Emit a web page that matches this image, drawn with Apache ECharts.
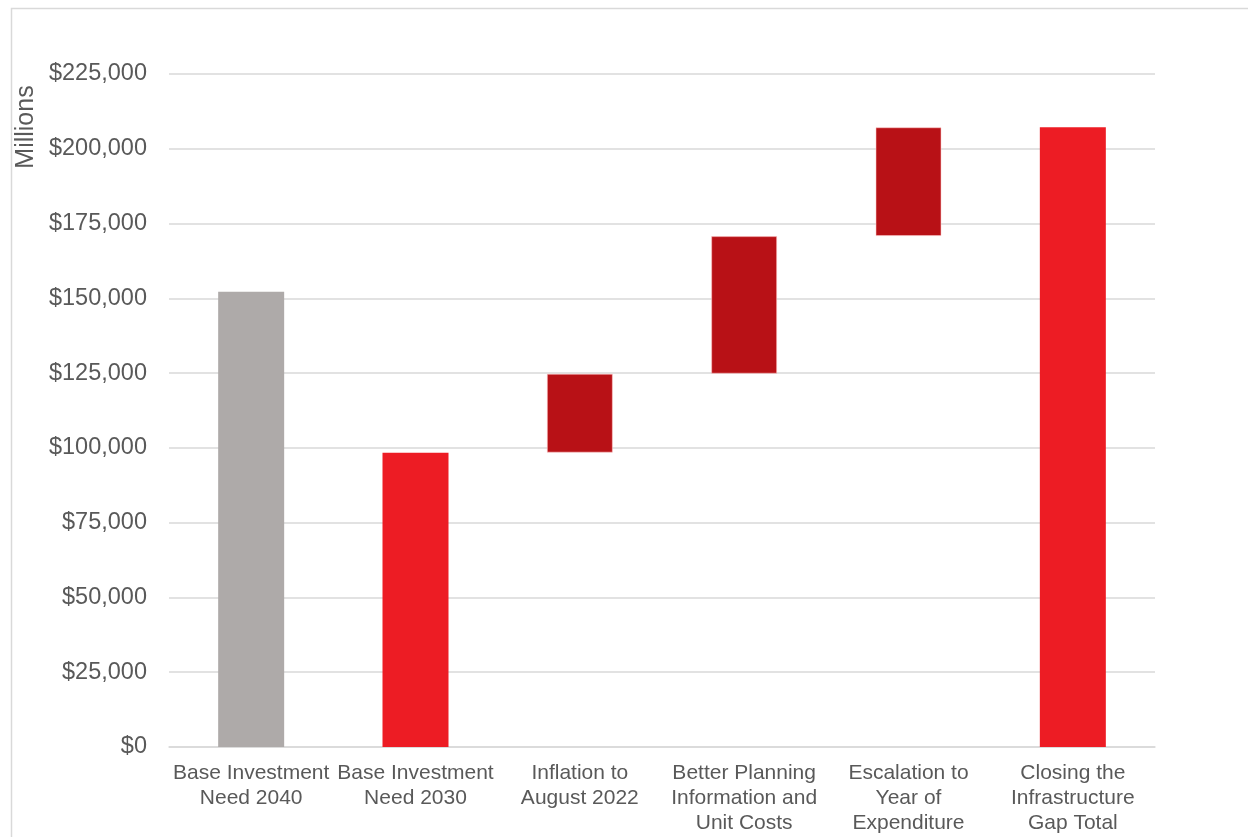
<!DOCTYPE html>
<html>
<head>
<meta charset="utf-8">
<script src="https://cdn.jsdelivr.net/npm/echarts@6/dist/echarts.min.js"></script>
<style>
  html, body { margin: 0; padding: 0; background: #ffffff; }
  #chart { width: 1248px; height: 837px; }
</style>
</head>
<body>
<div id="chart"></div>
<script>
// Waterfall: investment need build-up (millions of dollars)
const categories = [
  'Base Investment\nNeed 2040',
  'Base Investment\nNeed 2030',
  'Inflation to\nAugust 2022',
  'Better Planning\nInformation and\nUnit Costs',
  'Escalation to\nYear of\nExpenditure',
  'Closing the\nInfrastructure\nGap Total'
];
// Full-height bars (null where the step is floating)
const totals = [152200, 98400, null, null, null, 207200];
// Floating increments added on top of the 2030 base
const steps = [null, null, 26400, 46000, 36400, null];
const yTicks = [0, 25000, 50000, 75000, 100000, 125000, 150000, 175000, 200000, 225000];

const GREY = '#AEAAA9';
const RED = '#ED1C24';
const DARK_RED = '#B81116';

// Invisible offsets under each floating step: running sum starting at the 2030 base
const offsets = [];
let running = totals[1];
for (let i = 0; i < categories.length; i++) {
  if (steps[i] != null) {
    offsets.push(running);
    running += steps[i];
  } else {
    offsets.push(null);
  }
}

const totalColors = [GREY, RED, null, null, null, RED];

const chart = echarts.init(document.getElementById('chart'), null, { renderer: 'canvas' });

chart.setOption({
  animation: false,
  backgroundColor: '#ffffff',
  textStyle: { fontFamily: 'Liberation Sans, Arial, sans-serif' },
  grid: { left: 169, right: 93, top: 74, bottom: 90, containLabel: false },
  graphic: [
    {
      type: 'rect',
      shape: { x: 11.5, y: 8.5, width: 1400, height: 1000 },
      style: { fill: 'none', stroke: '#d9d9d9', lineWidth: 1.5 },
      silent: true
    },
    {
      type: 'text',
      x: 26,
      y: 127,
      rotation: Math.PI / 2,
      style: {
        text: 'Millions',
        fill: '#595959',
        font: '25px "Liberation Sans", Arial, sans-serif',
        textAlign: 'center',
        textVerticalAlign: 'middle'
      }
    }
  ],
  xAxis: {
    type: 'category',
    data: categories,
    axisLine: { lineStyle: { color: '#d9d9d9', width: 1.5 } },
    axisTick: { show: false },
    axisLabel: {
      interval: 0,
      color: '#595959',
      fontSize: 21,
      lineHeight: 25,
      margin: 14,
      fontFamily: 'Liberation Sans, Arial, sans-serif'
    }
  },
  yAxis: {
    type: 'value',
    min: yTicks[0],
    max: yTicks[yTicks.length - 1],
    interval: yTicks[1] - yTicks[0],
    axisLine: { show: false },
    axisTick: { show: false },
    splitLine: { lineStyle: { color: '#d9d9d9', width: 1.5 } },
    axisLabel: {
      color: '#595959',
      fontSize: 23.5,
      margin: 22,
      fontFamily: 'Liberation Sans, Arial, sans-serif',
      formatter: v => '$' + v.toLocaleString('en-US')
    }
  },
  series: [
    {
      name: 'offset',
      type: 'bar',
      stack: 'w',
      barWidth: 66,
      silent: true,
      itemStyle: { color: 'transparent' },
      data: offsets
    },
    {
      name: 'step',
      type: 'bar',
      stack: 'w',
      barWidth: 66,
      itemStyle: { color: DARK_RED, borderColor: 'rgba(255,200,200,0.55)', borderWidth: 1 },
      data: steps
    },
    {
      name: 'total',
      type: 'bar',
      stack: 'w',
      barWidth: 66,
      data: totals.map((v, i) => v == null ? null : { value: v, itemStyle: { color: totalColors[i] } })
    }
  ]
});
</script>
</body>
</html>
